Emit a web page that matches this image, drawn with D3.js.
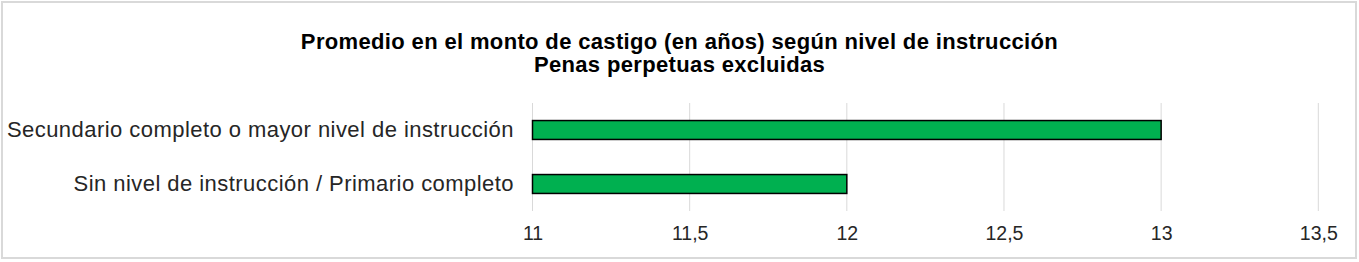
<!DOCTYPE html>
<html>
<head>
<meta charset="utf-8">
<script src="https://cdn.jsdelivr.net/npm/d3@7"></script>
<style>
  body { margin: 0; background: #fff; }
  svg { display: block; font-family: "Liberation Sans", Arial, sans-serif; }
</style>
</head>
<body>
<svg id="chart" width="1359" height="262"></svg>
<script>
// data
const categories = ["Secundario completo o mayor nivel de instrucción", "Sin nivel de instrucción / Primario completo"];
const values = [13, 12];
const tickValues = [11, 11.5, 12, 12.5, 13, 13.5];
const titleLines = ["Promedio en el monto de castigo (en años) según nivel de instrucción", "Penas perpetuas excluidas"];

let svg = d3.select("#chart");

// outer frame
svg.append("rect")
    .attr("x", 2).attr("y", 2)
    .attr("width", 1354).attr("height", 256)
    .attr("fill", "#fff")
    .attr("stroke", "#d9d9d9")
    .attr("stroke-width", 2);

let plotLeft = 532.5, plotRight = 1318.3, plotTop = 103, plotBottom = 211;

let x = d3.scaleLinear().domain([11, 13.5]).range([plotLeft, plotRight]);
let y = d3.scaleBand().domain(categories).range([plotTop, plotBottom]).paddingInner(0.65).paddingOuter(0.325);

// gridlines
svg.append("g")
    .selectAll("line")
    .data(tickValues)
    .join("line")
    .attr("x1", d => x(d)).attr("x2", d => x(d))
    .attr("y1", plotTop).attr("y2", plotBottom)
    .attr("stroke", "#d9d9d9")
    .attr("stroke-width", 1);

// bars
svg.append("g")
    .selectAll("rect")
    .data(values)
    .join("rect")
    .attr("x", x(11))
    .attr("y", (d, i) => y(categories[i]))
    .attr("width", d => x(d) - x(11))
    .attr("height", y.bandwidth())
    .attr("fill", "#00b050")
    .attr("stroke", "#000")
    .attr("stroke-width", 1.5);

// x axis labels
let xAxis = d3.axisBottom(x)
    .tickValues(tickValues)
    .tickSize(0)
    .tickPadding(0)
    .tickFormat(d => String(d).replace(".", ","));

let gx = svg.append("g")
    .attr("transform", `translate(0, 226)`)
    .call(xAxis);
gx.select(".domain").remove();
gx.selectAll("text")
    .attr("font-size", 19.5)
    .attr("font-family", "Liberation Sans, Arial, sans-serif")
    .attr("fill", "#262626");

// y axis labels
let yAxis = d3.axisLeft(y).tickSize(0).tickPadding(0);
let gy = svg.append("g")
    .attr("transform", `translate(514, 0)`)
    .call(yAxis);
gy.select(".domain").remove();
gy.selectAll("text")
    .attr("font-size", 22)
    .attr("letter-spacing", 0.45)
    .attr("font-family", "Liberation Sans, Arial, sans-serif")
    .attr("fill", "#262626");

// title
svg.append("g")
    .selectAll("text")
    .data(titleLines)
    .join("text")
    .attr("x", 679.5)
    .attr("y", (d, i) => 48.5 + i * 23)
    .attr("text-anchor", "middle")
    .attr("font-size", 22)
    .attr("letter-spacing", 0.35)
    .attr("font-weight", "bold")
    .attr("fill", "#000")
    .text(d => d);
</script>
</body>
</html>
